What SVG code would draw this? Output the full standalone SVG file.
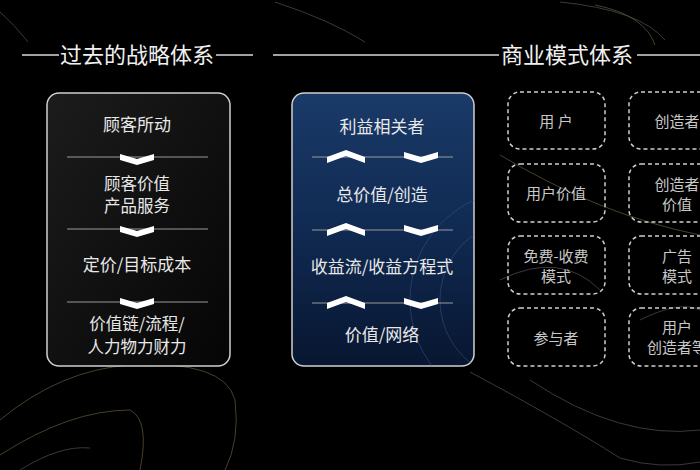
<svg xmlns="http://www.w3.org/2000/svg" width="700" height="470" viewBox="0 0 700 470">
<defs>
<linearGradient id="gBlue" x1="0" y1="0" x2="0" y2="1">
<stop offset="0" stop-color="#1a3a68"/>
<stop offset="0.5" stop-color="#102a52"/>
<stop offset="1" stop-color="#081630"/>
</linearGradient>
<linearGradient id="gDark" x1="0" y1="0" x2="1" y2="1">
<stop offset="0" stop-color="#1c1c1c"/>
<stop offset="1" stop-color="#050505"/>
</linearGradient>
<clipPath id="blueClip"><rect x="292" y="93" width="182" height="273" rx="12"/></clipPath>
<polygon id="down" points="-17,0 0,5 17,0 17,6 0,11 -17,6" fill="#ffffff"/>
<polygon id="up" points="-19,7 0,0 19,7 19,13 0,6 -19,13" fill="#ffffff"/>
</defs>
<style>
.t{font-family:"Noto Sans CJK SC","Noto Sans",sans-serif;text-anchor:middle;}
.title{font-size:22px;fill:#f0f0f0;}
.lt{font-size:17px;fill:#e8e8e8;}
.lt2{font-size:16.5px;fill:#e8e8e8;}
.dt{font-size:15px;fill:#c8c8c8;}
.hl{stroke:#d8d8d8;stroke-width:1.5;}
.sep{stroke:#9a9a9a;stroke-width:1;}
.dash{fill:none;stroke:#d0d0d0;stroke-width:1.5;stroke-dasharray:4,3;}
.deco{fill:none;stroke:#6a5a3a;stroke-width:1;opacity:0.7;}
.deco2{fill:none;stroke:#3a3a3a;stroke-width:1;}
</style>
<rect width="700" height="470" fill="#000"/>
<!-- background decorative curves -->
<g id="background">
<path class="deco2" d="M0,12 Q15,25 28,42"/>
<path class="deco2" d="M275,2 Q330,20 365,42"/>
<path class="deco2" d="M560,2 Q640,10 665,40"/>
<path class="deco" d="M595,5 Q645,15 655,45"/>
<path class="deco" d="M500,155 Q600,215 700,235"/>
<path class="deco2" d="M470,372 Q560,420 620,458 Q660,470 700,462"/>
<path class="deco2" d="M530,380 Q620,440 700,430"/>
<path class="deco" d="M0,420 Q60,370 130,365 Q225,360 235,400 Q240,440 225,470"/>
<path class="deco" d="M0,455 Q70,410 130,410 Q150,420 140,470"/>
<path class="deco2" d="M20,470 Q60,445 90,448"/>
<path class="deco2" d="M500,280 Q560,250 600,290"/>
<path class="deco2" d="M640,320 Q680,300 700,310"/>
</g>
<!-- headings -->
<g id="heading-left">
<line class="hl" x1="22" y1="55" x2="59" y2="55"/>
<text class="t title" x="137" y="63">过去的战略体系</text>
<line class="hl" x1="216" y1="55" x2="253" y2="55"/>
</g>
<g id="heading-right">
<line class="hl" x1="273" y1="55" x2="499" y2="55"/>
<text class="t title" x="567" y="63">商业模式体系</text>
<line class="hl" x1="637" y1="55" x2="700" y2="55"/>
</g>
<!-- left box -->
<g id="past-strategy">
<rect x="47" y="93" width="183" height="273" rx="12" fill="url(#gDark)" stroke="#cfcfcf" stroke-width="1.5"/>
<text class="t lt" x="137" y="131">顾客所动</text>
<text class="t lt2" x="137" y="190">顾客价值</text>
<text class="t lt2" x="137" y="212">产品服务</text>
<text class="t lt" x="137" y="271">定价/目标成本</text>
<text class="t lt2" x="137" y="330">价值链/流程/</text>
<text class="t lt2" x="137" y="353">人力物力财力</text>
</g>
<!-- blue box -->
<g id="business-model">
<rect x="292" y="93" width="182" height="273" rx="12" fill="url(#gBlue)" stroke="#cfcfcf" stroke-width="1.5"/>
<g clip-path="url(#blueClip)">
<circle cx="520" cy="300" r="110" fill="none" stroke="#3a5a88" stroke-width="1" opacity="0.5"/>
<circle cx="520" cy="300" r="80" fill="none" stroke="#3a5a88" stroke-width="1" opacity="0.5"/>
</g>
<text class="t lt" x="382" y="133">利益相关者</text>
<text class="t lt" x="382" y="201">总价值/创造</text>
<text class="t lt" x="382" y="273">收益流/收益方程式</text>
<text class="t lt" x="382" y="341">价值/网络</text>
</g>
<!-- dashed nodes -->
<g id="n-user"><rect class="dash" x="508" y="92" width="97" height="57" rx="12"/><text class="t dt" x="556" y="127">用  户</text></g>
<g id="n-creator"><rect class="dash" x="629" y="92" width="97" height="57" rx="12"/><text class="t dt" x="677" y="127">创造者</text></g>
<g id="n-user-value"><rect class="dash" x="508" y="164" width="97" height="58" rx="12"/><text class="t dt" x="556" y="199">用户价值</text></g>
<g id="n-creator-value"><rect class="dash" x="629" y="164" width="97" height="58" rx="12"/><text class="t dt" x="677" y="190">创造者</text><text class="t dt" x="677" y="210">价值</text></g>
<g id="n-freemium"><rect class="dash" x="508" y="236" width="97" height="58" rx="12"/><text class="t dt" x="556" y="262">免费-收费</text><text class="t dt" x="556" y="282">模式</text></g>
<g id="n-ads"><rect class="dash" x="629" y="236" width="97" height="58" rx="12"/><text class="t dt" x="677" y="262">广告</text><text class="t dt" x="677" y="282">模式</text></g>
<g id="n-participant"><rect class="dash" x="508" y="308" width="97" height="58" rx="12"/><text class="t dt" x="556" y="344">参与者</text></g>
<g id="n-user-creator"><rect class="dash" x="629" y="308" width="97" height="58" rx="12"/><text class="t dt" x="677" y="333">用户</text><text class="t dt" x="677" y="353">创造者等</text></g>
<!-- connectors -->
<g id="connectors">
<line class="sep" x1="67" y1="157" x2="208" y2="157"/>
<use href="#down" x="137" y="154"/>
<line class="sep" x1="67" y1="229" x2="208" y2="229"/>
<use href="#down" x="137" y="226"/>
<line class="sep" x1="67" y1="302" x2="208" y2="302"/>
<use href="#down" x="137" y="298"/>
<line class="sep" x1="312" y1="157" x2="453" y2="157"/>
<use href="#up" x="346" y="150"/>
<use href="#down" x="421" y="152"/>
<line class="sep" x1="312" y1="230" x2="453" y2="230"/>
<use href="#up" x="346" y="223"/>
<use href="#down" x="421" y="225"/>
<line class="sep" x1="312" y1="303" x2="453" y2="303"/>
<use href="#up" x="346" y="296"/>
<use href="#down" x="421" y="298"/>
</g>
</svg>
